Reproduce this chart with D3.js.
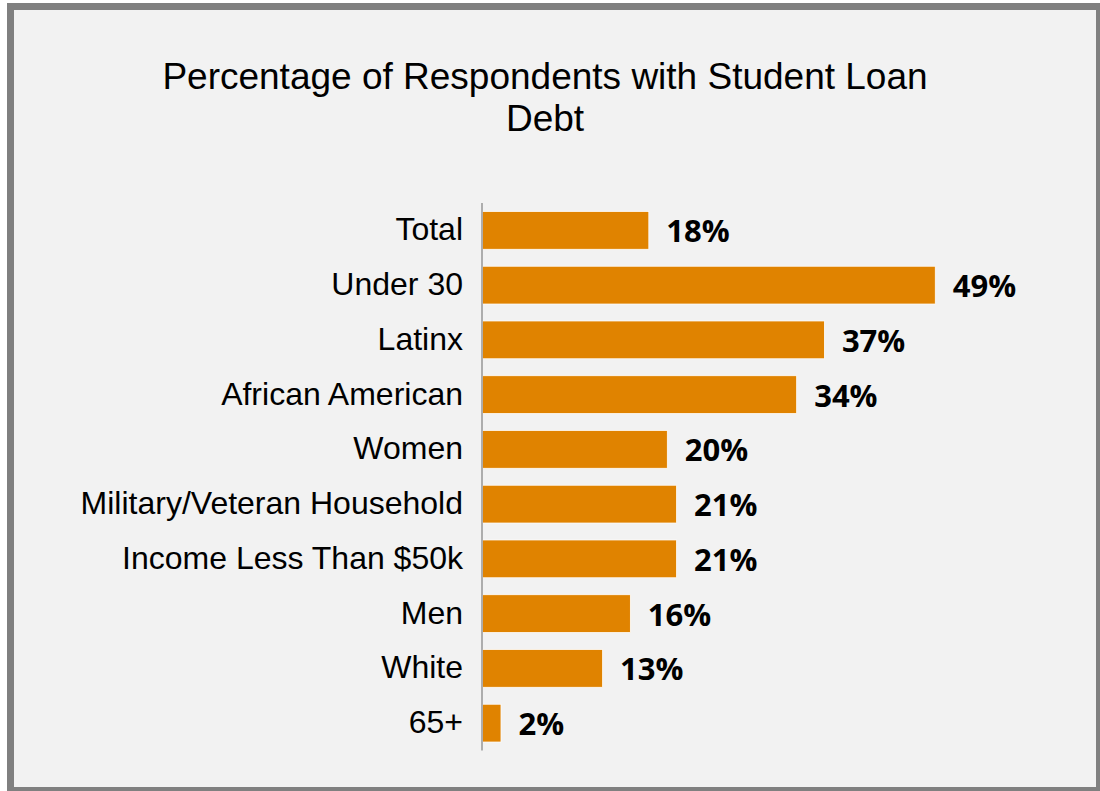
<!DOCTYPE html>
<html>
<head>
<meta charset="utf-8">
<script src="https://cdn.jsdelivr.net/npm/d3@7"></script>
<style>
  html, body { margin: 0; padding: 0; background: #ffffff; }
  svg { display: block; }
</style>
</head>
<body>
<svg id="chart" width="1100" height="791"></svg>
<script>
// Survey groups, top to bottom
const categories = [
  "Total", "Under 30", "Latinx", "African American", "Women",
  "Military/Veteran Household", "Income Less Than $50k", "Men", "White", "65+"
];
// Share of respondents carrying student loan debt (%)
const values = [18, 49, 37, 34, 20, 21, 21, 16, 13, 2];
const titleLines = ["Percentage of Respondents with Student Loan", "Debt"];

const svg = d3.select("#chart");
const W = 1100, H = 791;

// Panel with grey frame
svg.append("rect")
  .attr("x", 10.5).attr("y", 6.5)
  .attr("width", 1089).attr("height", 784)
  .attr("fill", "#f2f2f2")
  .attr("stroke", "#808080")
  .attr("stroke-width", 7);

// Title
svg.append("text")
  .attr("text-anchor", "middle")
  .attr("font-family", "'Liberation Sans', Arial, sans-serif")
  .attr("font-size", 37)
  .attr("fill", "#000")
  .selectAll("tspan")
  .data(titleLines)
  .join("tspan")
  .attr("x", 545)
  .attr("y", (d, i) => 89 + i * 42)
  .text(d => d);

const x = d3.scaleLinear().domain([0, 50]).range([482.5, 944.5]);
const y = d3.scaleBand().domain(categories).range([203, 750.5]).paddingInner(0.31).paddingOuter(0.155);

// Bars
svg.append("g")
  .selectAll("rect")
  .data(categories)
  .join("rect")
  .attr("x", x(0))
  .attr("y", d => y(d))
  .attr("width", (d, i) => x(values[i]) - x(0))
  .attr("height", y.bandwidth())
  .attr("fill", "#e08300")
  .attr("stroke", "#ffffff")
  .attr("stroke-width", 0.75);

// Category axis
const yAxis = d3.axisLeft(y).tickSize(0).tickPadding(19);
const gy = svg.append("g")
  .attr("transform", `translate(${x(0) - 0.5},0)`)
  .call(yAxis);
gy.select(".domain").attr("stroke", "#7f7f7f").attr("stroke-width", 1.2)
  .attr("d", "M0,203V750.5");
gy.selectAll(".tick text")
  .attr("font-family", "'Liberation Sans', Arial, sans-serif")
  .attr("font-size", 32)
  .attr("fill", "#000")
  .attr("dy", null)
  .attr("y", 10);

// Value labels
svg.append("g")
  .selectAll("text")
  .data(categories)
  .join("text")
  .attr("x", (d, i) => x(values[i]) + 17.5)
  .attr("y", d => y(d) + y.bandwidth() / 2 + 12)
  .attr("font-family", "'Open Sans', sans-serif")
  .attr("font-weight", 700)
  .attr("font-size", 31)
  .attr("fill", "#000")
  .text((d, i) => values[i] + "%");
</script>
</body>
</html>
